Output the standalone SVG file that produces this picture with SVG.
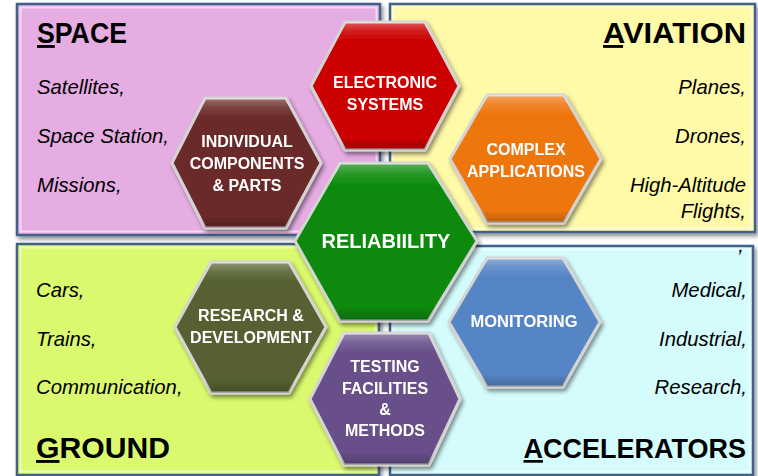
<svg xmlns="http://www.w3.org/2000/svg" width="758" height="476" viewBox="0 0 758 476">
<defs>
<style>
.box{stroke:#41628A;stroke-width:2.5}
.bevel{fill:none;stroke:#ffffff;stroke-opacity:.55;stroke-width:2}
.title{font-family:"Liberation Sans",Arial,sans-serif;font-weight:bold;font-size:29px;fill:#000}
.item{font-family:"Liberation Sans",Arial,sans-serif;font-style:italic;font-size:20.3px;fill:#000}
.hex{stroke:#D4D4D4;stroke-width:3;stroke-linejoin:round}
.shine{fill:url(#shine);stroke:none}
.lbl{font-family:"Liberation Sans",Arial,sans-serif;font-weight:bold;font-size:16px;fill:#fff;text-anchor:middle}
.u{text-decoration:underline}
</style>
<linearGradient id="shine" x1="0" y1="0" x2="0" y2="1">
<stop offset="0" stop-color="#fff" stop-opacity="0.35"/>
<stop offset="0.07" stop-color="#fff" stop-opacity="0.12"/>
<stop offset="0.15" stop-color="#fff" stop-opacity="0"/>
<stop offset="0.9" stop-color="#000" stop-opacity="0"/>
<stop offset="1" stop-color="#000" stop-opacity="0.22"/>
</linearGradient>
<filter id="sh" x="-10%" y="-10%" width="125%" height="125%">
<feDropShadow dx="2" dy="3" stdDeviation="2" flood-color="#000" flood-opacity="0.45"/>
</filter>
</defs>
<rect width="758" height="476" fill="#ffffff"/>

<g id="space">
<rect class="box" x="17" y="4" width="363" height="231" fill="#E6ADE3" filter="url(#sh)"/>
<rect class="bevel" x="20.5" y="7.5" width="356" height="224"/>
<text class="title" x="37" y="43" textLength="90" lengthAdjust="spacingAndGlyphs"><tspan class="u">S</tspan>PACE</text>
<text class="item" x="37" y="94">Satellites,</text>
<text class="item" x="37" y="143">Space Station,</text>
<text class="item" x="37" y="192">Missions,</text>
</g>

<g id="aviation">
<rect class="box" x="390" y="4" width="365" height="228" fill="#FFFAA8" filter="url(#sh)"/>
<rect class="bevel" x="393.5" y="7.5" width="358" height="221"/>
<text class="title" x="746" y="43" text-anchor="end" textLength="143" lengthAdjust="spacingAndGlyphs"><tspan class="u">A</tspan>VIATION</text>
<text class="item" x="746" y="94" text-anchor="end">Planes,</text>
<text class="item" x="746" y="143" text-anchor="end">Drones,</text>
<text class="item" x="746" y="192" text-anchor="end">High-Altitude</text>
<text class="item" x="746" y="218" text-anchor="end">Flights,</text>
</g>

<g id="ground">
<rect class="box" x="17" y="244" width="362" height="231" fill="#DAF96E" filter="url(#sh)"/>
<rect class="bevel" x="20.5" y="247.5" width="355" height="224"/>
<text class="item" x="36" y="297">Cars,</text>
<text class="item" x="36" y="346">Trains,</text>
<text class="item" x="36" y="394">Communication,</text>
<text class="title" x="36" y="458" textLength="134" lengthAdjust="spacingAndGlyphs"><tspan class="u">G</tspan>ROUND</text>
</g>

<g id="accelerators">
<rect class="box" x="390" y="246" width="363" height="229" fill="#D5FCFC" filter="url(#sh)"/>
<rect class="bevel" x="393.5" y="249.5" width="356" height="222"/>
<text class="item" x="744" y="252" text-anchor="end">,</text>
<text class="item" x="747" y="297" text-anchor="end">Medical,</text>
<text class="item" x="747" y="346" text-anchor="end">Industrial,</text>
<text class="item" x="747" y="394" text-anchor="end">Research,</text>
<text class="title" x="746" y="458" text-anchor="end" style="font-size:27px"><tspan class="u">A</tspan>CCELERATORS</text>
</g>

<g id="connectors"></g>

<g id="electronic-systems" filter="url(#sh)">
<polygon class="hex" points="345,22 425,22 459,86 425,150 345,150 311,86" fill="#CC0000"/>
<polygon class="shine" points="345,22 425,22 459,86 425,150 345,150 311,86"/>
<text class="lbl" x="385" y="88">ELECTRONIC</text>
<text class="lbl" x="385" y="110">SYSTEMS</text>
</g>

<g id="individual-components" filter="url(#sh)">
<polygon class="hex" points="205,98 286,98 321,163 286,228 205,228 172,163" fill="#6B2A2A"/>
<polygon class="shine" points="205,98 286,98 321,163 286,228 205,228 172,163"/>
<text class="lbl" x="247" y="147">INDIVIDUAL</text>
<text class="lbl" x="247" y="169">COMPONENTS</text>
<text class="lbl" x="247" y="191">&amp; PARTS</text>
</g>

<g id="complex-applications" filter="url(#sh)">
<polygon class="hex" points="487,95 564,95 601,159 564,223 487,223 450,159" fill="#EE7711"/>
<polygon class="shine" points="487,95 564,95 601,159 564,223 487,223 450,159"/>
<text class="lbl" x="526" y="155">COMPLEX</text>
<text class="lbl" x="526" y="177">APPLICATIONS</text>
</g>

<g id="research-development" filter="url(#sh)">
<polygon class="hex" points="211,262 289,262 326,327 289,393 211,393 175,327" fill="#566130"/>
<polygon class="shine" points="211,262 289,262 326,327 289,393 211,393 175,327"/>
<text class="lbl" x="251" y="321">RESEARCH &amp;</text>
<text class="lbl" x="251" y="343">DEVELOPMENT</text>
</g>

<g id="monitoring" filter="url(#sh)">
<polygon class="hex" points="487,258 563,258 600,322 563,387 487,387 449,322" fill="#5585C5"/>
<polygon class="shine" points="487,258 563,258 600,322 563,387 487,387 449,322"/>
<text class="lbl" x="524" y="327" style="font-size:16.5px">MONITORING</text>
</g>

<g id="testing-facilities" filter="url(#sh)">
<polygon class="hex" points="344,333 429,333 460,399 429,465 344,465 310,399" fill="#674F89"/>
<polygon class="shine" points="344,333 429,333 460,399 429,465 344,465 310,399"/>
<text class="lbl" x="385" y="372">TESTING</text>
<text class="lbl" x="385" y="394">FACILITIES</text>
<text class="lbl" x="385" y="415">&amp;</text>
<text class="lbl" x="385" y="436">METHODS</text>
</g>

<g id="reliability" filter="url(#sh)">
<polygon class="hex" points="340,163 428,163 477,241 428,321 340,321 295,241" fill="#088A08"/>
<polygon class="shine" points="340,163 428,163 477,241 428,321 340,321 295,241"/>
<text class="lbl" x="386" y="248" style="font-size:20px">RELIABIILITY</text>
</g>
</svg>
